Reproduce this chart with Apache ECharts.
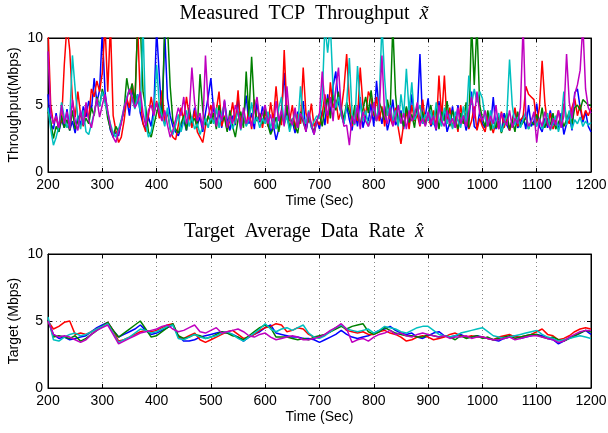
<!DOCTYPE html>
<html>
<head>
<meta charset="utf-8">
<script src="https://cdn.jsdelivr.net/npm/echarts@6/dist/echarts.min.js"></script>
<style>html,body{margin:0;padding:0;background:#fff}#c{width:608px;height:433px}</style>
</head>
<body>
<div id="c"></div>
<script>
// Sample times: top plot every 5 s, bottom plot every 10 s (200..1200)
const tStartTop = 200, tStepTop = 5;
const tStartBot = 200, tStepBot = 10;

// ---- Measured TCP throughput (Mbps), one value per 5 s ----
const thrBlue = [
5.8,3.6,3.2,4.4,3.0,3.9,3.3,4.7,3.1,3.8,2.9,4.2,3.5,4.9,4.1,5.3,4.6,7.0,5.2,6.1,
10.5,6.0,4.3,3.1,2.6,3.0,2.7,3.8,4.6,5.5,4.2,6.3,5.0,5.8,4.4,3.6,3.2,4.1,3.4,4.8,
10.6,7.2,4.0,10.4,5.5,4.2,3.4,3.0,2.7,3.3,3.9,3.1,4.5,3.6,4.8,3.5,4.1,3.0,4.4,5.6,
7.0,4.6,3.8,4.5,3.3,5.3,3.9,3.1,4.2,3.5,5.6,3.4,4.0,5.7,3.6,4.4,3.2,5.2,3.7,4.9,
3.8,4.4,2.9,3.5,2.4,3.2,4.6,7.4,4.1,3.3,3.8,2.9,4.5,3.6,5.3,3.0,4.1,3.4,2.8,3.9,
3.2,4.6,3.5,5.8,4.3,6.4,7.5,5.1,4.4,3.6,5.0,3.9,3.1,4.7,3.4,5.6,3.3,4.2,3.8,5.1,
3.4,6.8,4.5,3.6,4.9,3.1,4.0,5.4,3.5,3.9,4.6,3.2,4.8,3.4,5.8,4.1,4.3,8.8,3.6,4.2,
5.5,3.4,3.8,3.1,5.3,3.6,4.4,3.0,3.7,4.9,3.3,5.0,3.5,4.2,3.1,3.9,6.0,3.4,3.2,4.5,
3.6,3.3,4.1,3.4,5.6,3.2,3.8,3.0,4.4,3.5,3.1,3.9,4.7,3.3,3.6,4.2,3.2,5.0,3.4,3.8,
5.1,3.4,3.0,4.0,3.3,4.6,3.5,3.8,3.2,4.4,2.8,3.6,4.3,3.1,5.9,6.2,4.8,3.7,4.5,3.4,
3.0];
const thrRed = [
10.8,5.0,3.6,4.1,3.3,3.8,8.0,11,9.1,5.4,4.1,6.0,4.3,3.4,4.8,4.0,6.2,5.6,6.8,6.0,
7.4,11,6.0,11,4.2,3.1,2.2,2.6,3.8,5.5,4.8,6.6,5.2,11,5.4,3.6,3.0,4.2,5.6,4.4,
5.3,4.0,6.1,3.6,4.5,3.2,2.6,2.4,3.5,4.8,3.9,5.6,4.2,3.3,4.6,3.0,2.6,2.2,3.4,4.1,
5.0,3.7,4.6,6.0,3.4,4.2,3.1,3.9,5.2,3.6,6.1,3.3,4.0,3.5,4.7,3.2,5.4,3.8,4.4,3.3,
4.6,3.4,5.2,3.8,6.4,4.1,3.5,9.1,4.6,3.8,5.0,3.2,4.3,3.6,7.8,4.4,3.7,5.1,3.4,3.9,
3.5,4.3,5.8,3.6,6.7,4.8,5.4,3.9,4.6,6.2,8.8,5.3,3.4,4.7,3.8,7.8,5.0,4.2,6.0,5.5,
4.2,5.6,3.8,4.9,3.4,5.2,4.0,3.5,4.8,3.3,2.1,3.6,4.5,3.2,5.0,3.8,4.3,3.4,5.4,3.7,
4.1,3.5,4.6,3.2,7.2,4.0,7.2,3.6,4.8,3.3,4.2,3.0,5.0,3.6,4.4,3.2,3.8,4.9,3.1,4.0,
3.4,3.0,4.2,3.6,2.9,3.8,3.2,4.5,3.3,4.0,3.1,3.7,4.8,3.4,3.9,4.1,6.4,5.8,5.6,5.4,
3.6,4.8,8.3,5.2,3.5,4.4,3.2,3.8,4.6,3.4,5.1,4.0,3.6,4.8,5.5,4.2,5.0,3.9,4.6,4.2,
4.8];
const thrGreen = [
4.5,3.8,2.5,3.4,3.0,4.2,3.3,3.9,3.1,4.6,3.2,3.8,4.4,3.5,4.0,3.6,4.8,4.2,5.6,4.9,
6.2,5.4,4.0,3.2,2.7,3.4,3.0,3.8,4.6,7.0,5.8,6.6,5.0,11,11,6.0,4.8,3.0,2.6,3.5,
4.4,5.2,3.9,11,11,6.4,3.8,3.2,2.9,3.6,4.2,3.1,4.8,3.7,4.0,3.3,7.3,4.6,3.5,4.2,
3.6,4.4,3.2,5.0,3.8,4.1,3.0,4.6,3.4,2.6,3.9,4.5,3.3,7.5,4.2,8.6,4.9,3.8,4.3,3.6,
4.8,3.5,2.8,3.3,4.1,3.0,4.4,3.6,5.0,3.2,4.0,3.4,2.9,4.5,3.7,3.1,4.2,3.5,3.0,3.8,
4.3,3.4,4.9,5.5,4.0,5.8,4.6,6.0,4.8,3.9,5.2,4.5,3.6,5.0,4.2,3.5,4.7,5.6,4.4,6.1,
4.5,3.8,5.2,4.6,3.9,5.4,4.2,11,5.8,3.6,4.4,3.4,4.9,3.7,4.3,3.3,5.0,3.8,4.5,3.5,
4.2,5.0,3.6,4.8,3.2,4.5,3.8,5.3,3.4,4.6,3.9,3.2,4.4,3.6,5.2,3.3,11,6.5,11,5.0,
4.0,3.4,4.6,3.1,3.8,3.3,4.2,2.9,3.6,4.4,3.2,3.9,3.0,4.5,3.4,3.7,4.1,3.2,3.8,3.5,
4.3,3.6,4.8,3.3,4.0,3.5,4.4,3.2,3.7,4.1,3.4,3.9,4.5,3.6,4.8,5.0,4.6,5.4,5.2,5.0,
5.0];
const thrCyan = [
4.8,3.2,2.0,2.6,3.4,5.2,4.1,3.3,3.8,8.7,6.2,4.0,3.2,4.6,3.0,2.8,3.6,4.4,5.4,4.9,
6.0,5.2,4.4,3.6,2.9,2.6,3.2,3.9,4.8,5.6,6.2,5.4,4.7,5.8,4.5,11,3.6,2.6,3.0,4.2,
8.0,5.0,4.2,3.4,4.8,3.2,2.8,3.5,4.3,3.0,3.8,4.6,3.4,4.1,3.2,3.6,2.8,3.4,4.0,3.3,
4.2,3.6,4.8,3.3,4.4,5.1,3.5,4.0,3.2,3.8,4.6,3.1,4.5,3.4,3.9,5.2,3.6,4.1,3.3,4.0,
3.6,4.5,3.3,4.0,3.2,4.8,5.6,3.5,4.2,3.0,3.8,4.4,3.4,6.4,4.0,3.6,4.6,3.3,3.8,4.2,
4.0,5.5,11,8.9,11,6.2,4.8,5.6,4.2,3.6,5.0,8.5,4.4,3.5,7.9,5.2,3.8,4.6,3.4,4.2,
4.8,3.9,5.4,11,7.0,4.2,5.0,3.8,4.6,3.4,5.8,4.2,7.7,4.5,6.7,3.9,4.4,5.0,3.6,4.3,
3.8,4.6,3.5,5.2,4.0,3.4,4.8,3.6,4.3,3.2,4.5,3.8,3.3,4.9,3.6,7.2,5.0,6.2,5.2,6.0,
5.5,4.0,3.4,4.6,3.2,3.8,4.4,3.0,3.6,4.2,8.4,5.0,3.5,4.1,3.3,3.9,4.5,3.2,3.8,4.3,
3.4,4.0,3.2,3.7,4.4,3.1,3.6,4.2,3.0,3.8,6.0,3.5,4.6,3.2,3.9,3.6,4.1,3.4,3.8,3.5,
3.7];
const thrMagenta = [
9.0,4.4,3.6,4.2,3.3,5.0,3.6,4.5,3.2,5.4,3.8,3.1,4.6,3.5,5.2,3.9,3.3,4.4,5.5,4.1,
5.0,5.8,4.6,3.4,2.6,2.2,3.0,3.6,4.8,5.4,6.2,5.6,4.8,5.2,6.0,4.4,3.4,4.6,5.0,4.2,
5.2,4.4,3.8,4.6,3.5,2.6,3.1,3.9,4.8,4.2,5.6,3.6,4.4,7.8,5.2,3.8,4.4,3.2,8.7,5.0,
4.0,5.2,3.4,4.6,3.8,5.4,3.3,4.2,3.6,5.0,4.4,3.2,4.8,3.6,4.1,3.4,4.6,5.6,3.8,4.3,
5.0,3.6,4.3,3.2,5.3,3.8,4.6,3.4,6.4,4.0,3.5,4.8,3.3,4.4,3.9,3.0,4.5,3.6,2.8,3.8,
4.4,7.5,5.0,4.2,5.6,3.8,6.2,7.8,4.6,3.4,3.5,2.0,4.2,3.6,5.0,3.2,4.5,3.8,3.4,4.0,
5.2,3.8,4.5,8.7,4.2,3.6,4.8,3.4,4.0,5.0,3.6,4.4,3.2,4.6,3.8,4.2,5.2,3.5,4.0,3.4,
4.5,3.6,4.2,3.2,5.0,3.8,3.4,4.6,3.6,4.0,3.3,4.8,3.6,4.2,3.4,4.5,5.6,4.0,6.0,4.4,
3.8,4.6,3.4,4.2,3.6,5.0,3.2,4.4,3.8,3.5,4.6,3.3,4.0,3.6,4.8,11,4.2,3.4,3.8,4.5,
2.2,4.0,3.4,4.5,3.6,3.2,4.0,3.5,4.6,3.3,4.2,8.8,5.2,4.0,5.8,6.5,7.6,11,6.2,4.8,
4.4];

// ---- Target average data rate (Mbps), one value per 10 s ----
const tgtBlue = [
5.1,4.0,3.7,3.8,3.6,3.7,3.8,3.9,4.2,4.5,
4.7,4.9,4.3,3.8,4.0,4.2,4.4,4.7,4.3,4.0,
4.1,4.3,4.5,4.7,3.9,3.5,3.5,3.6,3.8,3.9,
4.0,4.1,4.2,4.1,4.0,3.8,3.5,3.8,4.0,4.2,
4.5,4.7,4.1,4.0,3.9,3.8,3.8,3.7,3.7,3.6,
3.4,3.6,3.8,4.0,4.3,4.0,3.8,3.7,3.8,3.9,
4.1,4.3,4.4,4.6,4.3,4.1,4.0,4.1,3.8,3.7,
3.9,4.1,4.2,3.9,3.8,3.9,4.0,3.8,3.8,3.9,
3.8,3.7,3.6,3.5,3.7,3.8,3.9,3.7,3.8,3.9,
4.0,3.9,3.7,3.6,3.3,3.5,3.7,3.9,4.1,4.3,
4.0];
const tgtRed = [
5.0,4.4,4.6,4.9,5.0,4.0,4.1,4.0,4.2,4.4,
4.6,4.9,4.3,3.5,3.6,3.8,4.0,4.2,4.3,4.2,
4.3,4.5,4.7,4.8,3.8,3.7,3.9,4.1,3.6,3.4,
3.6,3.8,4.0,4.2,4.3,4.0,3.7,3.8,4.0,4.3,
4.5,4.6,4.8,4.7,4.2,4.3,4.5,4.4,4.0,3.8,
3.8,4.0,4.2,4.5,4.7,4.3,4.2,4.1,4.2,4.0,
4.0,4.2,4.3,4.1,4.0,3.8,3.5,3.6,3.8,3.9,
3.8,3.6,3.7,3.8,4.0,4.1,3.9,3.8,3.9,3.8,
3.8,3.7,3.6,3.8,3.9,4.0,3.8,3.8,3.9,4.0,
4.2,4.4,4.0,3.9,3.6,3.7,3.9,4.2,4.4,4.5,
4.4];
const tgtGreen = [
5.1,3.8,3.9,3.8,3.7,3.9,3.5,3.7,4.0,4.3,
4.6,4.9,4.3,3.8,4.1,4.4,4.7,5.0,4.4,3.8,
3.9,4.2,4.5,4.8,3.9,3.7,3.8,4.0,3.9,3.7,
3.8,4.0,4.2,4.1,3.9,3.8,3.6,3.9,4.2,4.5,
4.7,4.5,3.8,3.8,3.8,3.7,3.6,3.7,3.6,3.8,
3.9,4.0,4.2,4.4,4.6,4.4,4.6,4.7,4.8,4.2,
4.0,4.2,4.5,4.3,4.1,4.0,3.9,3.9,3.8,3.8,
4.0,3.9,3.8,3.9,3.8,3.6,3.9,3.7,3.8,3.9,
3.7,3.8,3.6,3.7,3.8,3.9,3.7,3.8,3.9,4.0,
4.0,3.8,3.7,3.8,3.6,3.5,3.7,3.9,4.1,4.3,
4.2];
const tgtCyan = [
5.3,3.6,3.5,3.8,4.0,4.1,3.9,4.0,4.2,4.4,
4.6,4.8,4.1,3.4,3.6,3.8,4.1,4.4,4.3,4.1,
4.2,4.4,4.6,4.7,3.7,3.6,3.8,4.0,3.8,3.7,
3.8,3.9,4.1,4.2,4.0,3.7,3.5,3.8,4.1,4.4,
4.8,4.4,4.2,4.4,4.5,4.3,4.5,4.7,4.1,3.8,
3.7,3.9,4.2,4.5,4.7,4.4,4.3,4.2,4.3,4.4,
4.1,4.3,4.6,4.5,4.4,4.2,4.1,4.3,4.5,4.6,
4.6,4.3,4.0,3.9,3.8,3.9,4.1,4.2,4.3,4.4,
4.5,4.2,3.9,3.8,3.7,3.8,3.9,4.0,4.1,4.2,
4.3,4.0,3.8,3.7,3.5,3.6,3.7,3.8,3.9,3.8,
3.7];
const tgtMagenta = [
5.0,4.0,3.8,3.9,3.8,3.6,3.4,3.6,4.0,4.3,
4.5,4.7,4.0,3.3,3.5,3.7,3.9,4.1,4.2,4.3,
4.4,4.6,4.7,4.4,4.2,4.3,4.5,4.7,4.2,4.1,
4.3,4.5,4.1,4.2,4.3,4.4,4.2,3.9,3.8,4.0,
4.1,3.8,3.6,3.7,3.8,3.9,3.8,3.6,3.6,3.7,
3.8,4.0,4.3,4.5,4.8,4.4,3.4,3.6,3.7,3.5,
3.8,4.0,4.1,4.3,4.0,4.1,3.9,3.8,4.0,4.1,
4.0,3.9,3.8,3.9,3.7,3.8,3.8,3.9,3.7,3.8,
3.8,3.7,3.6,3.6,3.7,3.8,3.6,3.7,3.8,3.9,
3.9,3.8,3.7,3.6,3.4,3.5,3.8,4.0,4.2,4.3,
4.3];

const xTicks = [200,300,400,500,600,700,800,900,1000,1100,1200];
const yTicks = [0,5,10];
const colors = { blue:'#0000FF', red:'#FF0000', green:'#008000', cyan:'#00BFBF', magenta:'#BF00BF' };

function pairs(vals, t0, dt){ return vals.map((v,i)=>[t0+i*dt, v]); }

const font = 'Liberation Sans, Arial, sans-serif';
const serif = 'Liberation Serif, Times New Roman, serif';

function xAx(gi, mirror){
  return {
    gridIndex: gi, type:'value', position: mirror ? 'top' : 'bottom',
    min:xTicks[0], max:xTicks[xTicks.length-1], interval:xTicks[1]-xTicks[0],
    name: mirror ? '' : 'Time (Sec)', nameLocation:'middle', nameGap:22, nameMoveOverlap:false,
    nameTextStyle:{ fontFamily:font, fontSize:14, color:'#000' },
    axisLine:{ show:true, onZero:false, lineStyle:{ color:'#000', width:1 } },
    axisTick:{ show:true, inside:true, length:4, lineStyle:{ color:'#000' } },
    axisLabel:{ show:!mirror, fontFamily:font, fontSize:14, color:'#000', margin:6, showMinLabel:true, showMaxLabel:true,
      formatter:(v)=>String(v) },
    splitLine:{ show:!mirror, lineStyle:{ color:'#888', type:[1,3], width:1 } }
  };
}
function yAx(gi, name, mirror){
  return {
    gridIndex: gi, type:'value', position: mirror ? 'right' : 'left',
    min:yTicks[0], max:yTicks[yTicks.length-1], interval:yTicks[1]-yTicks[0],
    name: mirror ? '' : name, nameLocation:'middle', nameGap:27, nameMoveOverlap:false,
    nameTextStyle:{ fontFamily:font, fontSize:14, color:'#000' },
    axisLine:{ show:true, onZero:false, lineStyle:{ color:'#000', width:1 } },
    axisTick:{ show:true, inside:true, length:4, lineStyle:{ color:'#000' } },
    axisLabel:{ show:!mirror, fontFamily:font, fontSize:14, color:'#000', margin:5, formatter:(v)=>String(v) },
    splitLine:{ show:!mirror, lineStyle:{ color:'#888', type:[1,3], width:1 } }
  };
}
function line(gi, vals, t0, dt, color){
  return { type:'line', xAxisIndex:gi, yAxisIndex:gi, data:pairs(vals,t0,dt),
    showSymbol:false, symbol:'none', clip:true, animation:false,
    lineStyle:{ color:color, width:1.5 }, itemStyle:{ color:color } };
}

const titleRich = { t:{ fontFamily:serif, fontSize:20, fontWeight:'normal', color:'#000' },
                    m:{ fontFamily:serif, fontSize:20, fontWeight:'normal', fontStyle:'italic', color:'#000' } };
const sp = '\u2002';

const chart = echarts.init(document.getElementById('c'), null, { renderer:'canvas' });
chart.setOption({
  backgroundColor:'#fff',
  animation:false,
  title:[
    { text:'{t|Measured' + sp + 'TCP' + sp + 'Throughput' + sp + '}{m|x\u0303}', left:'center', top:-1,
      textStyle:{ fontWeight:'normal', rich:titleRich } },
    { text:'{t|Target' + sp + 'Average' + sp + 'Data' + sp + 'Rate' + sp + '}{m|x\u0302}', left:'center', top:217,
      textStyle:{ fontWeight:'normal', rich:titleRich } }
  ],
  grid:[
    { left:48, top:38, width:543, height:134, show:true, borderColor:'#000', borderWidth:1, backgroundColor:'#fff', outerBoundsMode:'none', containLabel:false },
    { left:48, top:254, width:543, height:134, show:true, borderColor:'#000', borderWidth:1, backgroundColor:'#fff', outerBoundsMode:'none', containLabel:false }
  ],
  xAxis:[ xAx(0,false), xAx(1,false), xAx(0,true), xAx(1,true) ],
  yAxis:[ yAx(0,'Throughput(Mbps)',false), yAx(1,'Target (Mbps)',false), yAx(0,'',true), yAx(1,'',true) ],
  series:[
    line(0, thrBlue, tStartTop, tStepTop, colors.blue),
    line(0, thrRed, tStartTop, tStepTop, colors.red),
    line(0, thrGreen, tStartTop, tStepTop, colors.green),
    line(0, thrCyan, tStartTop, tStepTop, colors.cyan),
    line(0, thrMagenta, tStartTop, tStepTop, colors.magenta),
    line(1, tgtBlue, tStartBot, tStepBot, colors.blue),
    line(1, tgtRed, tStartBot, tStepBot, colors.red),
    line(1, tgtGreen, tStartBot, tStepBot, colors.green),
    line(1, tgtCyan, tStartBot, tStepBot, colors.cyan),
    line(1, tgtMagenta, tStartBot, tStepBot, colors.magenta)
  ]
});
</script>
</body>
</html>
